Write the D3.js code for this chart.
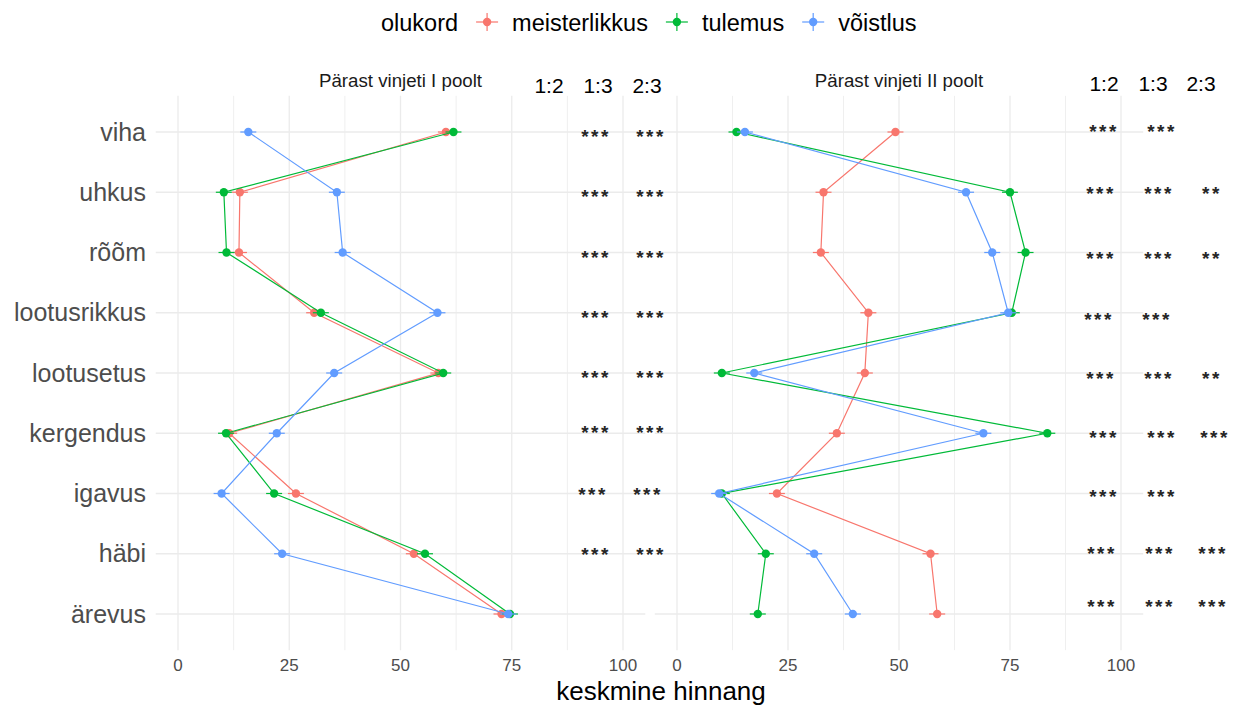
<!DOCTYPE html>
<html>
<head>
<meta charset="utf-8">
<script src="https://cdn.jsdelivr.net/npm/d3@7"></script>
<style>
  html, body { margin: 0; padding: 0; background: #ffffff; }
  svg { display: block; font-family: Arial, "Liberation Sans", sans-serif; }
</style>
</head>
<body>
<svg id="chart" width="1244" height="706"></svg>
<script>
// Emotions (rows, top to bottom)
const categories = ["viha", "uhkus", "rõõm", "lootusrikkus", "lootusetus", "kergendus", "igavus", "häbi", "ärevus"];
// Situations (colour groups)
const situations = ["meisterlikkus", "tulemus", "võistlus"];
const panelTitles = ["Pärast vinjeti I poolt", "Pärast vinjeti II poolt"];
const xTicks = [0, 25, 50, 75, 100];
const comparisons = ["1:2", "1:3", "2:3"];

// Mean ratings, panel I
const firstMeisterlikkus = [60.2, 13.9, 13.7, 30.6, 58.5, 11.5, 26.5, 53.0, 72.7];
const firstTulemus       = [61.9, 10.3, 10.9, 32.1, 59.6, 10.8, 21.6, 55.5, 74.6];
const firstVoistlus      = [15.8, 35.7, 37.0, 58.3, 35.1, 22.2,  9.8, 23.4, 74.2];
// Mean ratings, panel II
const secondMeisterlikkus = [49.2, 33.0, 32.4, 43.1, 42.3, 36.0, 22.5, 57.1, 58.6];
const secondTulemus       = [13.4, 75.0, 78.5, 75.4, 10.1, 83.4, 10.1, 20.0, 18.2];
const secondVoistlus      = [15.3, 65.1, 71.0, 74.6, 17.4, 69.0,  9.5, 30.9, 39.6];

// Pairwise significance per row: [1:2, 1:3, 2:3]
const firstStars = [
  ["", "***", "***"], ["", "***", "***"], ["", "***", "***"],
  ["", "***", "***"], ["", "***", "***"], ["", "***", "***"],
  ["", "***", "***"], ["", "***", "***"], ["", "", ""]
];
const secondStars = [
  ["***", "***", ""], ["***", "***", "**"], ["***", "***", "**"],
  ["***", "***", ""], ["***", "***", "**"], ["***", "***", "***"],
  ["***", "***", ""], ["***", "***", "***"], ["***", "***", "***"]
];

// ---- layout ----
const colors = {"meisterlikkus": "#F8766D", "tulemus": "#00BA38", "võistlus": "#619CFF"};
const panelDefs = [
  {title: panelTitles[0], range: [155.75, 645.25], series: [firstMeisterlikkus, firstTulemus, firstVoistlus],
   stars: firstStars, starX: [549, 596, 651], starDx: [0, 0, 0, 0, 0, 0, -3, 0, 0], starDy: [0, 0, 0, 0, 0, -5, -4, -4, 0],
   headX: [549, 598, 647], headY: 93},
  {title: panelTitles[1], range: [654.8, 1143.2], series: [secondMeisterlikkus, secondTulemus, secondVoistlus],
   stars: secondStars, starX: [1102, 1160, 1213], starDx: [2, -1, -1, -3, -1, 2, 2, 0, 0], starDy: [-5, -3, 1, 2, 1, 0, -2, -5, -12],
   headX: [1104, 1153, 1201], headY: 91}
];
const yTop = 95.85, yBottom = 650.15;

const svg = d3.select("#chart");
const y = d3.scalePoint().domain(categories).range([132, 614]);
const gridLayer = svg.append("g");
const markLayer = svg.append("g");
const textLayer = svg.append("g");

panelDefs.forEach((p, pi) => {
  const x = d3.scaleLinear().domain([-5, 105]).range(p.range);
  const g = gridLayer.append("g");

  // grid: minor then major
  const minor = d3.range(-12.5, 112.5 + 0.1, 25).filter(v => v > -5 && v < 105);
  g.selectAll(".minor").data(minor).join("line")
    .attr("x1", d => x(d)).attr("x2", d => x(d))
    .attr("y1", yTop).attr("y2", yBottom)
    .attr("stroke", "#EBEBEB").attr("stroke-width", 0.8);
  g.selectAll(".major").data(xTicks).join("line")
    .attr("x1", d => x(d)).attr("x2", d => x(d))
    .attr("y1", yTop).attr("y2", yBottom)
    .attr("stroke", "#EBEBEB").attr("stroke-width", 1.3);
  g.selectAll(".hgrid").data(categories).join("line")
    .attr("x1", p.range[0]).attr("x2", p.range[1])
    .attr("y1", d => y(d)).attr("y2", d => y(d))
    .attr("stroke", "#EBEBEB").attr("stroke-width", 1.3);

  const t = textLayer.append("g");
  // x axis tick labels
  t.selectAll(".tick").data(xTicks).join("text")
    .attr("x", d => x(d)).attr("y", 671)
    .attr("text-anchor", "middle").attr("font-size", 17).attr("fill", "#4D4D4D")
    .text(d => d);

  // panel title, centred over the panel
  t.append("text").attr("x", (p.range[0] + p.range[1]) / 2).attr("y", 87)
    .attr("text-anchor", "middle").attr("font-size", 18.7).attr("fill", "#1A1A1A")
    .text(p.title);

  // comparison headers
  t.selectAll(".head").data(comparisons).join("text")
    .attr("x", (d, i) => p.headX[i]).attr("y", p.headY)
    .attr("text-anchor", "middle").attr("font-size", 21).attr("fill", "#000")
    .text(d => d);

  // significance stars
  p.stars.forEach((row, ri) => {
    row.forEach((s, ci) => {
      if (!s) return;
      t.append("text")
        .attr("x", p.starX[ci] + p.starDx[ri]).attr("y", y(categories[ri]) + p.starDy[ri] + 11)
        .attr("text-anchor", "middle").attr("font-size", 19).attr("font-weight", "bold")
        .attr("letter-spacing", 2.5).attr("fill", "#262626")
        .text(s);
    });
  });

  // lines and markers per situation
  const m0 = markLayer.append("g");
  const line = d3.line().x(d => x(d.v)).y(d => y(d.c));
  situations.forEach((s, si) => {
    const pts = categories.map((c, i) => ({c, v: p.series[si][i]}));
    const col = colors[s];
    m0.append("path").datum(pts).attr("d", line)
      .attr("fill", "none").attr("stroke", col).attr("stroke-width", 1.2);
    const m = m0.selectAll(".m" + si).data(pts).join("g")
      .attr("transform", d => `translate(${x(d.v)},${y(d.c)})`);
    m.append("line").attr("x1", -8).attr("x2", 8).attr("stroke", col).attr("stroke-width", 1.2);
    m.append("line").attr("y1", -3).attr("y2", 3).attr("stroke", col).attr("stroke-width", 1.2);
    m.append("circle").attr("r", 4.2).attr("fill", col);
  });
});

// y axis category labels
textLayer.selectAll(".cat").data(categories).join("text")
  .attr("x", 146).attr("y", d => y(d) + 8.5)
  .attr("text-anchor", "end").attr("font-size", 25).attr("fill", "#4D4D4D")
  .text(d => d);

// x axis title
textLayer.append("text").attr("x", 661).attr("y", 700)
  .attr("text-anchor", "middle").attr("font-size", 26).attr("fill", "#000")
  .text("keskmine hinnang");

// legend
const leg = textLayer.append("g");
let cx = 381;
const lt = leg.append("text").attr("x", cx).attr("y", 31).attr("font-size", 23.5).attr("fill", "#000").text("olukord");
cx += lt.node().getComputedTextLength();
situations.forEach(s => {
  const kc = cx + 29;
  const col = colors[s];
  leg.append("line").attr("x1", kc - 11).attr("x2", kc + 11).attr("y1", 22).attr("y2", 22).attr("stroke", col).attr("stroke-width", 1.2);
  leg.append("line").attr("x1", kc).attr("x2", kc).attr("y1", 13).attr("y2", 31).attr("stroke", col).attr("stroke-width", 1.2);
  leg.append("circle").attr("cx", kc).attr("cy", 22).attr("r", 4.2).attr("fill", col);
  const t = leg.append("text").attr("x", kc + 25).attr("y", 31).attr("font-size", 23.5).attr("fill", "#000").text(s);
  cx = kc + 25 + t.node().getComputedTextLength();
});
</script>
</body>
</html>
